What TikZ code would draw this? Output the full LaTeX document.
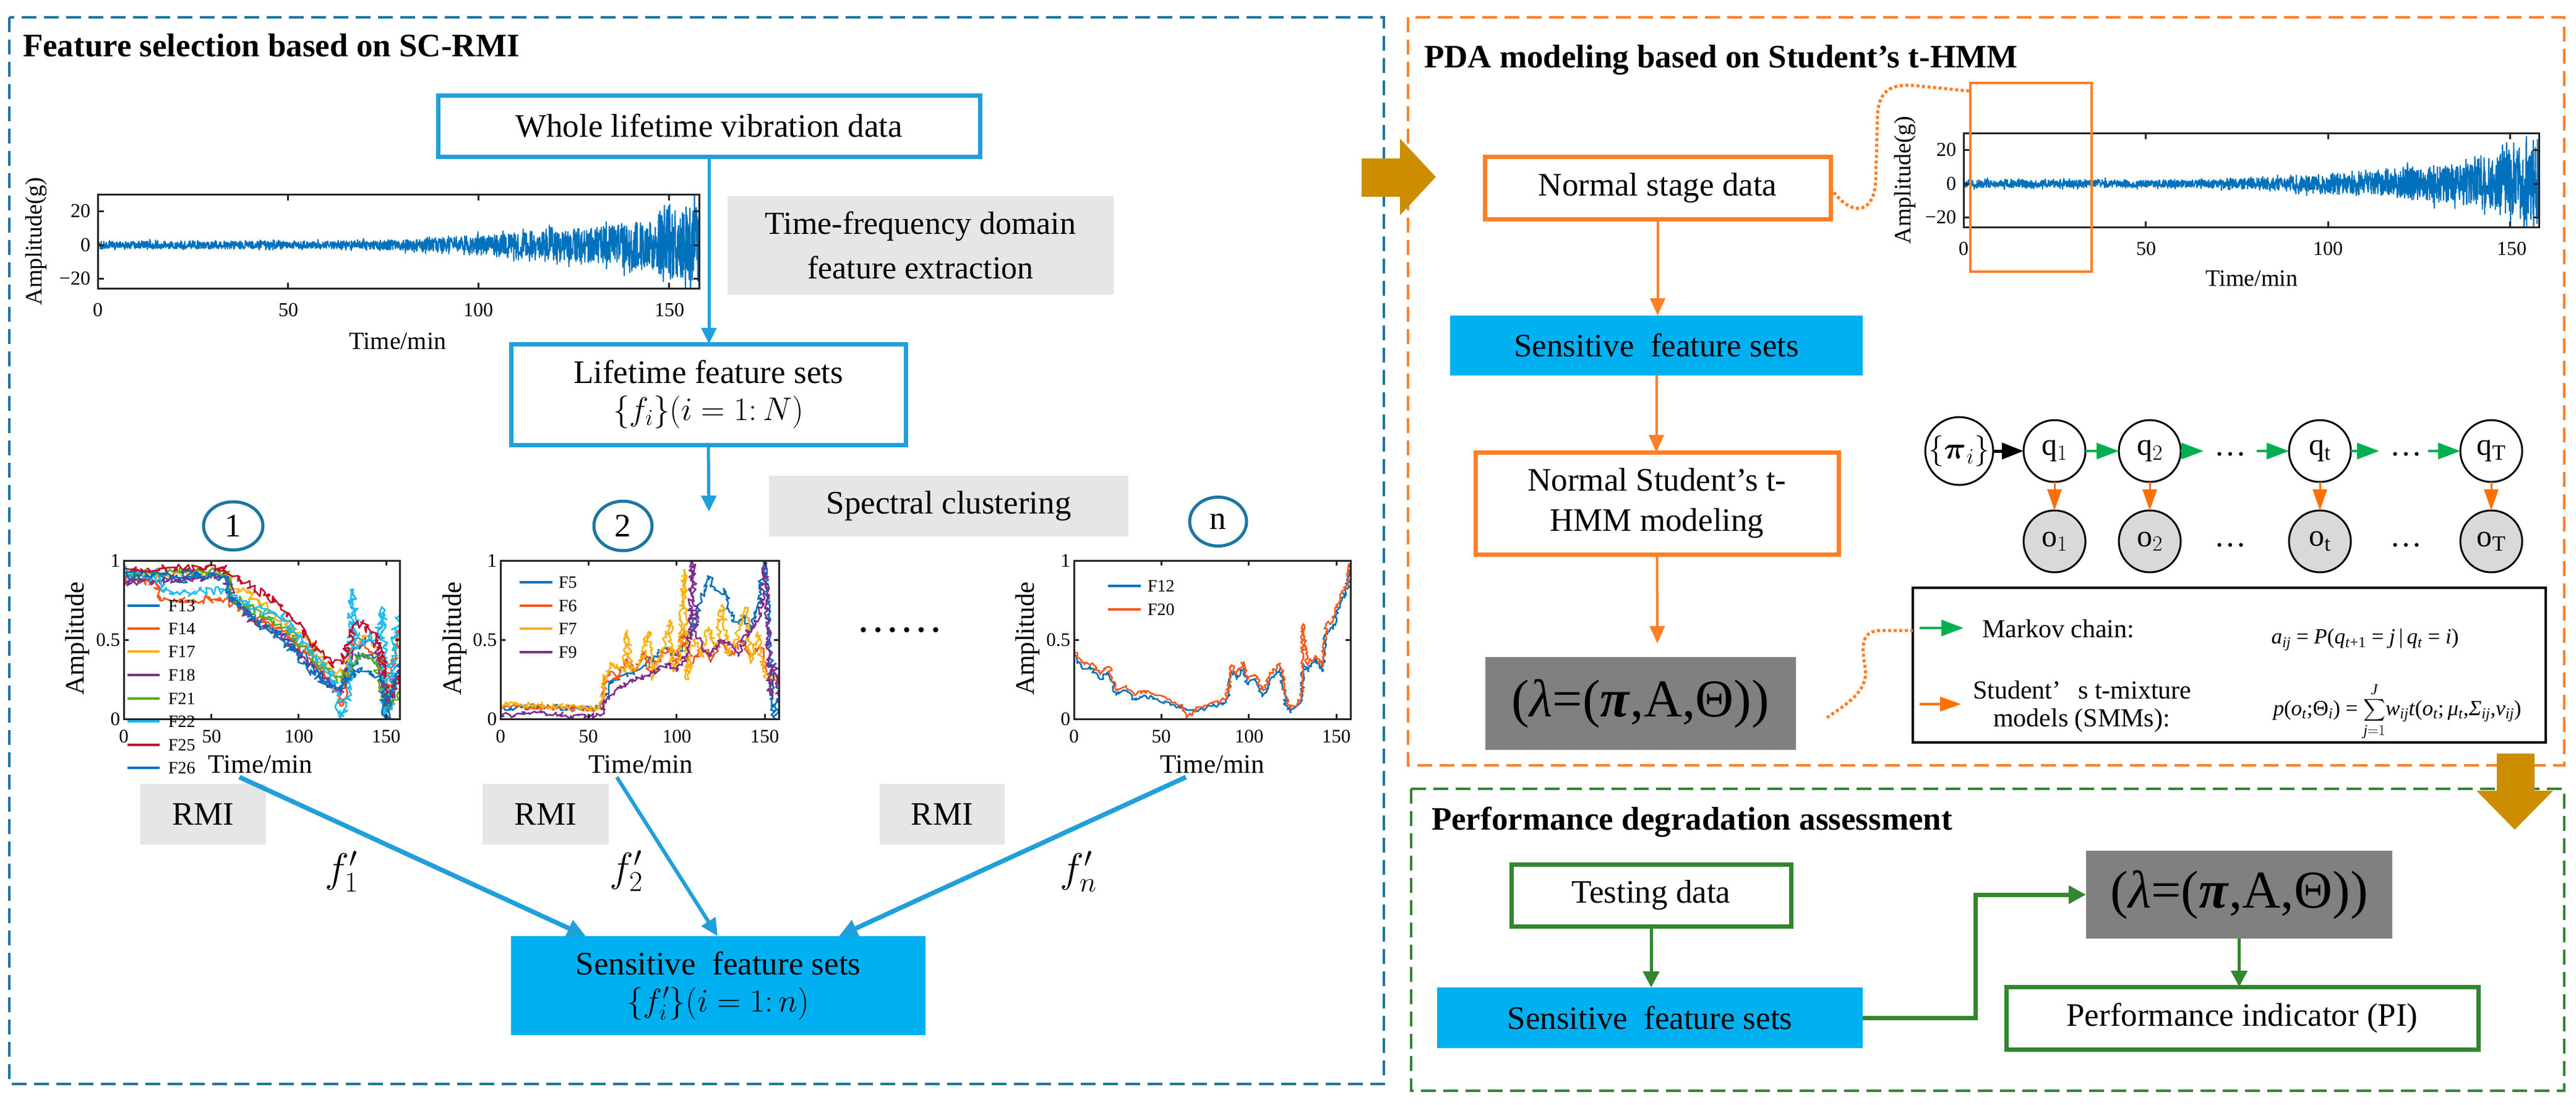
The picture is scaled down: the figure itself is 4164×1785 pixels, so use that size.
\RequirePackage{fix-cm}
\documentclass[tikz,border=0pt]{standalone}
\usepackage{amsmath}
\usepackage{fontspec}
\setmainfont{Liberation Serif}
\usetikzlibrary{arrows.meta,calc,decorations.pathmorphing,shapes.geometric}
\newcommand{\myit}[1]{\textit{#1}}
\definecolor{bblue}{HTML}{1B76A1}
\definecolor{lblue}{HTML}{219FDB}
\definecolor{cyanbox}{HTML}{00B0F0}
\definecolor{orng}{HTML}{FF7F27}
\definecolor{grn}{HTML}{31862F}
\definecolor{gold}{HTML}{CC8E00}
\definecolor{lgray}{HTML}{E6E6E6}
\definecolor{dgray}{HTML}{808080}
\definecolor{ogray}{HTML}{D9D9D9}
\definecolor{hgreen}{HTML}{00B050}
\definecolor{hor}{HTML}{FF7000}
\definecolor{axc}{HTML}{262626}
\definecolor{sigblue}{HTML}{0072BD}
\definecolor{mA}{HTML}{0072BD}
\definecolor{mB}{HTML}{F5591C}
\definecolor{mC}{HTML}{F9B315}
\definecolor{mD}{HTML}{7E2F8E}
\definecolor{mE}{HTML}{5FAA1E}
\definecolor{mF}{HTML}{1FBDF0}
\definecolor{mG}{HTML}{C0102F}
\begin{document}
\begin{tikzpicture}[x=1pt,y=-1pt,
  declare function={env(\t)=3.6+20*(max(\t-57,0.001)/91)^1.8+8*(\t>147);
                    sig(\t)=env(\t)*rand*(0.6+0.4*rnd^4);},
  every node/.style={inner sep=0pt,outer sep=0pt},
  big/.style={font=\fontsize{53}{62}\selectfont},
  ttl/.style={font=\fontsize{53}{62}\selectfont\bfseries,anchor=base west},
  tick/.style={font=\fontsize{32}{36}\selectfont},
  ctick/.style={font=\fontsize{31}{36}\selectfont},
  axlab/.style={font=\fontsize{40}{44}\selectfont},
  leg/.style={font=\fontsize{28}{32}\selectfont,anchor=west},
  bbox/.style={draw=lblue,line width=7pt,fill=white,big,align=center},
  obox/.style={draw=orng,line width=7pt,fill=white,big,align=center},
  gbox/.style={draw=grn,line width=7pt,fill=white,big,align=center},
  cbox/.style={fill=cyanbox,big,align=center},
  lgbox/.style={fill=lgray,big,align=center},
  lam/.style={fill=dgray,font=\fontsize{86}{90}\selectfont},
  num/.style={draw=bblue,line width=5pt,ellipse,big},
  barr/.style={draw=lblue,line width=5pt,-{Triangle[length=26pt,width=24pt]}},
  barrw/.style={draw=lblue,line width=7.5pt,-{Triangle[length=30pt,width=28pt]}},
  oarr/.style={draw=orng,line width=4pt,-{Triangle[length=28pt,width=24pt]}},
  garr/.style={draw=grn,line width=5pt,-{Triangle[length=26pt,width=26pt]}},
  hg/.style={draw=hgreen,line width=4pt,-{Triangle[length=36pt,width=26pt]}},
  hk/.style={draw=black,line width=5pt,-{Triangle[length=35pt,width=26pt]}},
  ho/.style={draw=hor,line width=3pt,-{Triangle[length=34pt,width=23pt]}},
  hmm/.style={circle,draw=black,line width=3pt,minimum size=100pt,font=\fontsize{50}{54}\selectfont},
  obs/.style={hmm,fill=ogray},
  bdashbox/.style={dash pattern=on 24pt off 12pt,line width=4pt},
  odot/.style={draw=orng,line width=5pt,dash pattern=on 5pt off 4pt},
  feat/.style={line width=2.6pt,line join=round,decorate,decoration={random steps,segment length=3pt,amplitude=#1}},
  feat/.default=5pt,
  axis/.style={draw=axc,line width=3pt},
  sigl/.style={sigblue,line width=2pt,line join=round},
  flab/.style={font=\fontsize{66}{70}\selectfont},
  fml/.style={font=\fontsize{35}{40}\selectfont},
]
\pgfmathsetseed{12345}
\fill[white] (0,0) rectangle (4164,1785);
\useasboundingbox (0,0) rectangle (4164,1785);

% ---------- dashed frames ----------
\draw[bblue,bdashbox] (15,28) rectangle (2237,1752);
\draw[orng,bdashbox] (2276,28) rectangle (4145,1237);
\draw[grn,bdashbox] (2281,1275) rectangle (4145,1763);

% ---------- titles ----------
\node[ttl] (t1) at (37,92) {Feature selection based on SC-RMI};
\node[ttl] (t2) at (2302,109) {PDA modeling based on Student’s t-HMM};
\node[ttl] (t3) at (2314,1341) {Performance degradation assessment};

% ---------- left vibration signal ----------
\begin{scope}[shift={(158,396)},x=6.158pt,y=2.72pt]
  \begin{scope}
    \clip (0,-26) rectangle (158,30);
    \draw[sigl] plot[domain=0:158,samples=2000] (\x,{sig(\x)});
  \end{scope}
  \draw[axis] (0,-26) rectangle (158,30);
  \foreach \v in {50,100,150}{\draw[axis] (\v,-26) -- ++(0,10pt); \draw[axis] (\v,30) -- ++(0,-10pt);}
  \foreach \v in {-20,0,20}{\draw[axis] (0,\v) -- ++(10pt,0); \draw[axis] (158,\v) -- ++(-10pt,0);}
\end{scope}
\foreach \xx/\l in {158/0,466/50,773/100,1082/150}{\node[tick] at (\xx,501) {\l};}
\foreach \yy/\l in {341/20,396/0,450/−20}{\node[tick,anchor=east] at (146,\yy) {\l};}
\node[axlab] at (643,551) {Time/min};
\node[axlab,rotate=90,font=\fontsize{38}{42}\selectfont] at (58,390) {Amplitude(g)};

% ---------- upper flow ----------
\node[bbox,minimum width=876pt,minimum height=99pt] (whole) at (1146,203.5) {Whole lifetime vibration data};
\node[lgbox,minimum width=624pt,minimum height=159pt,font=\fontsize{52}{72}\selectfont] (tf) at (1488,396.5) {Time-frequency domain\\feature extraction};
\node[bbox,minimum width=638pt,minimum height=163pt,font=\fontsize{53}{60}\selectfont] (life) at (1145,637.5) {Lifetime feature sets\\$\{f_i\}(i = 1{:}\,N)$};
\coordinate (ctop) at (1146,827);
\draw[barr] (whole.south) -- (whole.south |- life.north);
\draw[barr] (life.south) -- (ctop);
\node[lgbox,minimum width=581pt,minimum height=98pt] (spec) at (1533.5,818) {Spectral clustering};

\node[num,minimum width=96pt,minimum height=78pt] (n1) at (377,850) {1};
\node[num,minimum width=94pt,minimum height=80pt] (n2) at (1007,850) {2};
\node[num,minimum width=92pt,minimum height=79pt] (nn) at (1969,843) {n};

% ---------- cluster plot 1 ----------
\begin{scope}[shift={(200,1162)},x=2.829pt,y=256pt]
  \begin{scope}
    \clip (0,0) rectangle (158,1);
    \draw[mA,feat=7pt] plot coordinates {(0,.9) (10,.88) (20,.9) (30,.87) (45,.9) (58,.9) (60,.78) (75,.66) (90,.55) (105,.38) (118,.2) (124,.18) (130,.3) (134,.42) (140,.38) (145,.4) (148,.3) (150,.05) (153,.25) (158,.25)};
    \draw[mB,feat=7pt] plot coordinates {(0,.88) (15,.87) (18,.86) (21,.76) (40,.75) (58,.76) (62,.72) (75,.62) (90,.58) (105,.42) (118,.25) (122,.15) (124,.08) (128,.3) (132,.5) (138,.45) (144,.42) (148,.35) (150,.1) (153,.3) (158,.62)};
    \draw[mC,feat=7pt] plot coordinates {(0,.9) (30,.92) (58,.92) (62,.83) (70,.8) (80,.72) (90,.63) (105,.5) (118,.3) (124,.3) (130,.42) (138,.52) (144,.46) (148,.3) (151,.15) (158,.2)};
    \draw[mD,feat=7pt] plot coordinates {(0,.86) (20,.88) (58,.9) (62,.75) (75,.6) (90,.52) (105,.35) (118,.22) (124,.17) (130,.42) (138,.5) (145,.45) (149,.2) (151,.05) (158,.3)};
    \draw[mE,feat=7pt] plot coordinates {(0,.92) (30,.93) (58,.93) (62,.78) (75,.68) (90,.6) (105,.42) (118,.28) (124,.24) (130,.35) (136,.4) (142,.38) (147,.25) (150,.05) (154,.12) (158,.15)};
    \draw[mF,feat=7pt] plot coordinates {(0,.95) (12,.9) (20,.88) (23,.8) (40,.8) (58,.81) (62,.78) (75,.7) (90,.65) (105,.45) (118,.3) (122,.15) (124,.0) (127,.08) (129,.3) (131,.82) (133,.45) (140,.52) (145,.5) (148,.7) (149.5,.02) (152,.1) (155,.55) (158,.68)};
    \draw[mG,feat=7pt] plot coordinates {(0,.93) (20,.95) (58,.96) (62,.9) (70,.86) (80,.78) (90,.72) (105,.52) (118,.35) (125,.35) (132,.6) (136,.6) (142,.55) (147,.48) (150,.1) (155,.2) (158,.3)};
    \draw[mA,feat=7pt] plot coordinates {(0,.9) (25,.92) (58,.9) (62,.76) (75,.62) (90,.5) (105,.33) (118,.2) (124,.2) (130,.28) (138,.3) (146,.27) (150,.0) (155,.28) (158,.35)};
  \end{scope}
  \draw[axis] (0,0) rectangle (158,1);
  \foreach \v in {50,100,150}{\draw[axis] (\v,0) -- ++(0,8pt); \draw[axis] (\v,1) -- ++(0,-8pt);}
  \draw[axis] (0,.5) -- ++(8pt,0); \draw[axis] (158,.5) -- ++(-8pt,0);
\end{scope}
\foreach \xx/\l in {200/0,342/50,483/100,624/150}{\node[ctick] at (\xx,1190) {\l};}
\foreach \yy/\l in {906/1,1034/0.5,1162/0}{\node[ctick,anchor=east] at (194,\yy) {\l};}
\node[axlab,font=\fontsize{43}{46}\selectfont] at (421,1235) {Time/min};
\node[axlab,rotate=90,font=\fontsize{43}{46}\selectfont] at (125,1032) {Amplitude};
\foreach \c/\t/\yy in {mA/F13/979,mB/F14/1016,mC/F17/1053,mD/F18/1091,mE/F21/1129,mF/F22/1166,mG/F25/1204,mA/F26/1241}{
  \draw[\c,line width=4pt] (206,\yy) -- (258,\yy);
  \node[leg] at (272,\yy) {\t};}

% ---------- cluster plot 2 ----------
\begin{scope}[shift={(809,1162)},x=2.848pt,y=256pt]
  \begin{scope}
    \clip (0,0) rectangle (158,1);
    \draw[mA,feat] plot coordinates {(0,.07) (20,.08) (40,.07) (57,.07) (60,.15) (64,.25) (72,.28) (80,.32) (90,.42) (95,.45) (100,.4) (106,.5) (110,.6) (114,.75) (118,.9) (122,.82) (128,.8) (131,.65) (135,.6) (138,.65) (142,.55) (146,.72) (150,1) (152,.6) (155,.05) (156,0) (158,.25)};
    \draw[mB,feat] plot coordinates {(0,.08) (30,.07) (57,.06) (61,.3) (66,.25) (72,.38) (75,.3) (82,.42) (85,.3) (95,.45) (100,.35) (104,.55) (108,.35) (115,.45) (120,.38) (125,.5) (130,.4) (137,.5) (142,.4) (148,.45) (151,.3) (155,.25) (158,.28)};
    \draw[mC,feat] plot coordinates {(0,.09) (20,.09) (57,.06) (60,.3) (64,.35) (70,.3) (72,.56) (74,.3) (80,.38) (84,.55) (86,.25) (92,.45) (96,.62) (98,.3) (102,.42) (104,.94) (106,.25) (110,.5) (114,.4) (118,.58) (122,.45) (126,.72) (129,.4) (134,.5) (139,.7) (142,.35) (146,.55) (149,.3) (153,.25) (158,.25)};
    \draw[mD,feat] plot coordinates {(0,.02) (20,.04) (40,.02) (57,.02) (60,.12) (65,.18) (75,.25) (85,.28) (95,.35) (100,.3) (106,.4) (108,.6) (109,1) (111,.55) (114,.45) (118,.4) (125,.5) (130,.48) (135,.4) (140,.55) (145,.6) (148,.7) (150,.98) (152,.5) (153,.15) (156,.35) (158,.1)};
  \end{scope}
  \draw[axis] (0,0) rectangle (158,1);
  \foreach \v in {50,100,150}{\draw[axis] (\v,0) -- ++(0,8pt); \draw[axis] (\v,1) -- ++(0,-8pt);}
  \draw[axis] (0,.5) -- ++(8pt,0); \draw[axis] (158,.5) -- ++(-8pt,0);
\end{scope}
\foreach \xx/\l in {809/0,951/50,1094/100,1236/150}{\node[ctick] at (\xx,1190) {\l};}
\foreach \yy/\l in {906/1,1034/0.5,1162/0}{\node[ctick,anchor=east] at (803,\yy) {\l};}
\node[axlab,font=\fontsize{43}{46}\selectfont] at (1036,1235) {Time/min};
\node[axlab,rotate=90,font=\fontsize{43}{46}\selectfont] at (735,1032) {Amplitude};
\foreach \c/\t/\yy in {mA/F5/941,mB/F6/979,mC/F7/1016,mD/F9/1054}{
  \draw[\c,line width=4pt] (840,\yy) -- (893,\yy);
  \node[leg] at (903,\yy) {\t};}

\node[font=\fontsize{70}{70}\selectfont,anchor=base] (dots) at (1454,1021) {……};

% ---------- cluster plot n ----------
\begin{scope}[shift={(1736,1162)},x=2.829pt,y=256pt]
  \begin{scope}
    \clip (0,0) rectangle (158,1);
    \draw[mA,feat=3.5pt] plot coordinates {(0,.4) (4,.33) (10,.32) (15,.25) (20,.3) (24,.15) (30,.18) (35,.12) (40,.15) (48,.12) (55,.1) (62,.07) (70,.05) (78,.08) (86,.1) (88,.15) (90,.3) (93,.25) (97,.32) (99,.22) (103,.25) (108,.15) (112,.25) (118,.32) (121,.1) (124,.04) (130,.12) (131,.35) (134,.3) (138,.38) (142,.3) (144,.55) (148,.58) (152,.72) (156,.82) (158,.98)};
    \draw[mB,feat=3.5pt] plot coordinates {(0,.43) (4,.36) (10,.35) (15,.28) (20,.33) (24,.18) (30,.21) (35,.15) (40,.18) (48,.15) (55,.12) (62,.09) (64,.0) (70,.07) (78,.1) (86,.12) (88,.17) (90,.34) (93,.28) (97,.36) (99,.25) (103,.28) (108,.18) (112,.28) (118,.35) (121,.13) (124,.06) (130,.14) (131,.6) (133,.35) (138,.4) (142,.33) (144,.6) (148,.62) (152,.76) (156,.86) (158,1)};
  \end{scope}
  \draw[axis] (0,0) rectangle (158,1);
  \foreach \v in {50,100,150}{\draw[axis] (\v,0) -- ++(0,8pt); \draw[axis] (\v,1) -- ++(0,-8pt);}
  \draw[axis] (0,.5) -- ++(8pt,0); \draw[axis] (158,.5) -- ++(-8pt,0);
\end{scope}
\foreach \xx/\l in {1736/0,1877/50,2019/100,2160/150}{\node[ctick] at (\xx,1190) {\l};}
\foreach \yy/\l in {906/1,1034/0.5,1162/0}{\node[ctick,anchor=east] at (1730,\yy) {\l};}
\node[axlab,font=\fontsize{43}{46}\selectfont] at (1960,1235) {Time/min};
\node[axlab,rotate=90,font=\fontsize{43}{46}\selectfont] at (1661,1032) {Amplitude};
\foreach \c/\t/\yy in {mA/F12/947,mB/F20/985}{
  \draw[\c,line width=4pt] (1791,\yy) -- (1844,\yy);
  \node[leg] at (1855,\yy) {\t};}

% ---------- RMI and sensitive sets ----------
\node[lgbox,minimum width=203pt,minimum height=98pt] (rmi1) at (328.5,1316) {RMI};
\node[lgbox,minimum width=204pt,minimum height=98pt] (rmi2) at (882,1316) {RMI};
\node[lgbox,minimum width=202pt,minimum height=98pt] (rmi3) at (1523,1316) {RMI};
\node[cbox,minimum width=670pt,minimum height=160pt,font=\fontsize{53}{60}\selectfont] (sens) at (1161,1593) {Sensitive\ \ feature sets\\$\{f'_i\}(i = 1{:}\,n)$};
\coordinate (s1) at (387,1256);
\coordinate (s2) at (997,1256);
\coordinate (s3) at (1917,1256);
\draw[barrw] (s1) -- ([xshift=121pt]sens.north west);
\draw[barr,line width=6pt,-{Triangle[length=28pt,width=26pt]}] (s2) -- ([xshift=334pt]sens.north west);
\draw[barrw] (s3) -- ([xshift=530pt]sens.north west);
\node[flab] (fl1) at (552,1409) {$f'_1$};
\node[flab] (fl2) at (1012,1408) {$f'_2$};
\node[flab] (fln) at (1743,1409) {$f'_n$};

% ---------- right signal ----------
\begin{scope}[shift={(3174,297)},x=5.892pt,y=2.725pt]
  \begin{scope}
    \clip (0,-26) rectangle (158,30);
    \draw[sigl] plot[domain=0:158,samples=2000] (\x,{sig(\x)});
  \end{scope}
  \draw[axis] (0,-26) rectangle (158,30);
  \foreach \v in {50,100,150}{\draw[axis] (\v,-26) -- ++(0,10pt); \draw[axis] (\v,30) -- ++(0,-10pt);}
  \foreach \v in {-20,0,20}{\draw[axis] (0,\v) -- ++(10pt,0); \draw[axis] (158,\v) -- ++(-10pt,0);}
\end{scope}
\foreach \xx/\l in {3174/0,3469/50,3763/100,4060/150}{\node[tick] at (\xx,402) {\l};}
\foreach \yy/\l in {242/20,297/0,351/−20}{\node[tick,anchor=east] at (3162,\yy) {\l};}
\node[axlab,font=\fontsize{38}{42}\selectfont] at (3640,450) {Time/min};
\node[axlab,rotate=90,font=\fontsize{38}{42}\selectfont] at (3079,291) {Amplitude(g)};
\node[draw=orng,line width=4pt,minimum width=196pt,minimum height=305pt] (zoombox) at (3283,286.5) {};

% ---------- PDA flow ----------
\node[obox,minimum width=559pt,minimum height=101pt] (normal) at (2679.5,303.5) {Normal stage data};
\node[cbox,minimum width=667pt,minimum height=97pt] (sens2) at (2677.5,558.5) {Sensitive\ \ feature sets};
\node[obox,minimum width=587pt,minimum height=165pt,font=\fontsize{53}{65}\selectfont] (nstud) at (2678.5,813.5) {Normal Student’s t-\\HMM modeling};
\node[lam,minimum width=502pt,minimum height=150pt] (lam1) at (2652,1137) {(\textit{λ}=(\textbf{\textit{π}},A,Θ))};
\coordinate (lamin) at (2679,1040);
\draw[oarr] (normal.south) -- (normal.south |- sens2.north);
\draw[oarr] (sens2.south) -- (sens2.south |- nstud.north);
\draw[oarr] (nstud.south) -- (lamin);
\draw[odot] (normal.east) .. controls (2990,350) and (3030,350) .. (3032,290) -- (3035,185) .. controls (3038,135) and (3070,135) .. (3110,140) .. controls (3140,142) and (3165,146) .. ([yshift=-13pt]zoombox.north west);

% ---------- HMM ----------
\node[hmm] (pi) at (3167,729) {$\{\boldsymbol{\pi}_i\}$};
\node[hmm] (q1) at (3321,729) {$\mathrm{q}_1$};
\node[hmm] (q2) at (3475,729) {$\mathrm{q}_2$};
\node[hmm] (qt) at (3750,729) {$\mathrm{q}_\mathrm{t}$};
\node[hmm] (qT) at (4027,729) {$\mathrm{q}_\mathrm{T}$};
\node[obs] (o1) at (3321,875) {$\mathrm{o}_1$};
\node[obs] (o2) at (3475,875) {$\mathrm{o}_2$};
\node[obs] (ot) at (3750,875) {$\mathrm{o}_\mathrm{t}$};
\node[obs] (oT) at (4027,875) {$\mathrm{o}_\mathrm{T}$};
\node[font=\fontsize{52}{52}\selectfont,minimum width=47pt] (d1) at (3605,734) {…};
\node[font=\fontsize{52}{52}\selectfont,minimum width=47pt] (d2) at (3889,734) {…};
\node[font=\fontsize{52}{52}\selectfont,minimum width=47pt] (od1) at (3605,881) {…};
\node[font=\fontsize{52}{52}\selectfont,minimum width=47pt] (od2) at (3889,881) {…};
\draw[hk] (pi.east) -- (q1.west);
\draw[hg] (q1.east) -- (q2.west);
\draw[hg,shorten >=17pt] (q2.east) -- (q2.east -| d1.west);
\draw[hg,shorten <=17pt] (qt.west -| d1.east) -- (qt.west);
\draw[hg,shorten >=17pt] (qt.east) -- (qt.east -| d2.west);
\draw[hg,shorten <=10pt] (qT.west -| d2.east) -- (qT.west);
\foreach \a/\b in {q1/o1,q2/o2,qt/ot,qT/oT}{\draw[ho] (\a.south) -- (\b.north);}

% ---------- legend box ----------
\node[draw=black,line width=4.5pt,minimum width=1023pt,minimum height=250pt] (legend) at (3603.5,1075) {};
\coordinate (lga) at (3103,1015);
\coordinate (lgb) at (3174,1015);
\coordinate (lgc) at (3103,1138);
\coordinate (lgd) at (3170,1138);
\draw[hg] (lga) -- (lgb);
\draw[ho,line width=4pt] (lgc) -- (lgd);
\node[font=\fontsize{42}{46}\selectfont,anchor=base west] (mk) at (3204,1030) {Markov chain:};
\node[fml] (fa) at (3823,1034) {\myit{a}\textsubscript{\myit{ij}} = \myit{P}(\myit{q}\textsubscript{\myit{t}+1} = \myit{j}\,|\,\myit{q}\textsubscript{\myit{t}} = \myit{i})};
\node[font=\fontsize{42}{46}\selectfont,anchor=base west] (st) at (3189,1129) {Student’\hspace{28pt}s t-mixture};
\node[font=\fontsize{42}{46}\selectfont,anchor=base west] (sm) at (3222,1174) {models (SMMs):};
\node[fml] (fp) at (3875,1150) {\myit{p}(\myit{o}\textsubscript{\myit{t}};Θ\textsubscript{\myit{i}}) = $\displaystyle\sum_{\textit{j}=1}^{\textit{J}}$\myit{w}\textsubscript{\myit{ij}}\myit{t}(\myit{o}\textsubscript{\myit{t}};\,\myit{μ}\textsubscript{\myit{t}},\myit{Σ}\textsubscript{\myit{ij}},\myit{ν}\textsubscript{\myit{ij}})};
\coordinate (lamout) at (2953,1160);
\draw[odot] (lamout) .. controls (2990,1135) and (3020,1115) .. (3015,1080) .. controls (3008,1040) and (3010,1020) .. (3040,1019) -- ([yshift=56pt]legend.west);

% ---------- assessment ----------
\node[gbox,minimum width=452pt,minimum height=100pt] (test) at (2669,1447) {Testing data};
\node[cbox,minimum width=688pt,minimum height=98pt] (sens3) at (2667,1645) {Sensitive\ \ feature sets};
\node[lam,minimum width=495pt,minimum height=142pt] (lam2) at (3619.5,1446) {(\textit{λ}=(\textbf{\textit{π}},A,Θ))};
\node[gbox,minimum width=763pt,minimum height=101pt] (pibox) at (3624.5,1645.5) {Performance indicator (PI)};
\draw[garr] (test.south) -- (test.south |- sens3.north);
\draw[garr,line width=7pt,-{Triangle[length=28pt,width=28pt]}] (sens3.east) -- ++(182,0) |- (lam2.west);
\draw[garr] (lam2.south) -- (lam2.south |- pibox.north);

% ---------- gold arrows ----------
\fill[gold] (2201,256) -- (2263,256) -- (2263,224) -- (2321,286) -- (2263,348) -- (2263,318) -- (2201,318) -- cycle;
\fill[gold] (4036,1218) -- (4097,1218) -- (4097,1278) -- (4127,1278) -- (4065,1341) -- (4003,1278) -- (4036,1278) -- cycle;
\end{tikzpicture}
\end{document}
